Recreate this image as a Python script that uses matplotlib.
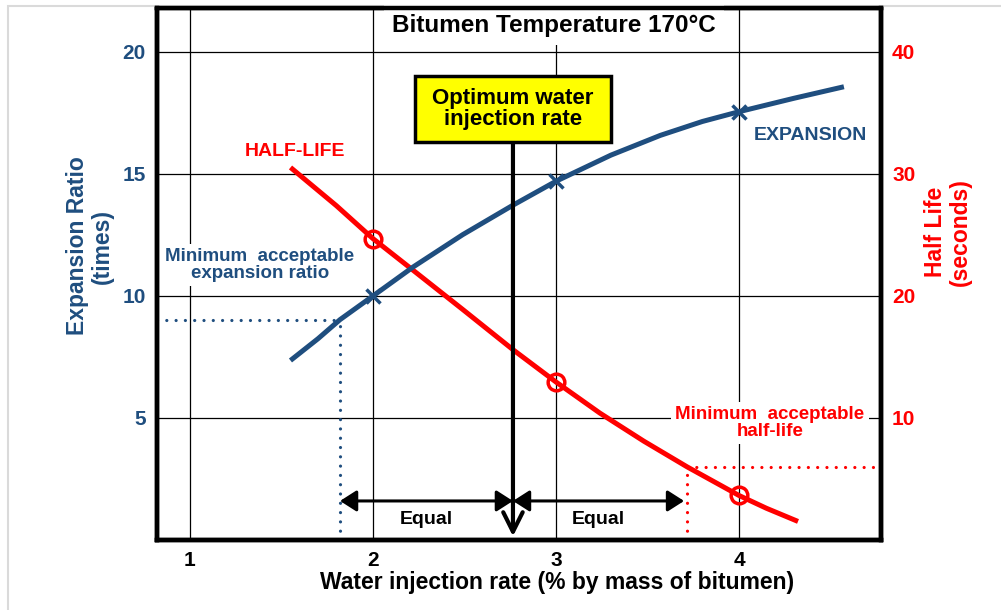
import matplotlib.pyplot as plt
from matplotlib.patches import Rectangle

plt.rcParams['font.family'] = ['Liberation Sans', 'DejaVu Sans']
plt.rcParams['font.weight'] = 'bold'

BLUE = '#1F4E7F'
RED = '#FF0000'

# expansion ratio (left axis)
exp_x = [1.56, 1.7, 1.82, 2.0, 2.22, 2.49, 2.765, 3.0, 3.3, 3.57, 3.8, 4.0, 4.3, 4.56]
exp_y = [7.42, 8.25, 9.03, 10.0, 11.19, 12.51, 13.72, 14.7, 15.77, 16.58, 17.15, 17.55, 18.1, 18.55]
exp_mark_x = [2, 3, 4]
exp_mark_y = [10.0, 14.7, 17.55]

# half-life in seconds (right axis)
hl_x = [1.56, 1.8, 2.0, 2.22, 2.49, 2.765, 3.0, 3.24, 3.48, 3.716, 4.0, 4.15, 4.31]
hl_y = [30.4, 27.4, 24.7, 22.1, 18.9, 15.6, 12.95, 10.4, 8.1, 6.0, 3.65, 2.6, 1.6]
hl_mark_x = [2, 3, 4]
hl_mark_y = [24.7, 12.95, 3.65]

min_expansion = 9.03
min_expansion_x = 1.82
min_halflife = 6.0
min_halflife_x = 3.716
optimum_x = 2.765

x_ticks = [1, 2, 3, 4]
left_ticks = [5, 10, 15, 20]
right_ticks = [10, 20, 30, 40]

xmin, xmax = 0.82, 4.776

fig = plt.figure(figsize=(10.01, 6.10), dpi=100)
fig.patch.set_facecolor('white')
ax = fig.add_axes([157 / 1001, 70 / 610, 724 / 1001, 532 / 610])
ax2 = ax.twinx()
ax.set_zorder(ax2.get_zorder() + 1)
ax.patch.set_visible(False)

ax.set_xlim(xmin, xmax)
ax.set_ylim(0, 21.8)
ax2.set_ylim(0, 43.6)
ax.set_xticks(x_ticks)
ax.set_yticks(left_ticks)
ax2.set_yticks(right_ticks)
ax.tick_params(axis='both', length=0, labelsize=15, pad=8)
ax.tick_params(axis='y', labelcolor=BLUE)
ax2.tick_params(axis='y', length=0, labelsize=15, pad=8, labelcolor=RED)

for a in (ax, ax2):
    for s in a.spines.values():
        s.set_linewidth(3.2)
        s.set_zorder(10)

# grid drawn on the lower axes so the curves sit over it
for xv in x_ticks:
    ax2.axvline(xv, color='black', lw=0.9, zorder=0)
for yv in right_ticks:
    ax2.axhline(yv, color='black', lw=0.9, zorder=0)

# minimum acceptable guides
dots = dict(linestyle=(0, (0.01, 2.9)), dash_capstyle='round', lw=2.3)
ax.plot([xmin, min_expansion_x], [min_expansion, min_expansion], color=BLUE, zorder=2, **dots)
ax.plot([min_expansion_x, min_expansion_x], [0, min_expansion], color=BLUE, zorder=2, **dots)
ax2.plot([min_halflife_x, xmax], [min_halflife, min_halflife], color=RED, zorder=1, **dots)
ax2.plot([min_halflife_x, min_halflife_x], [0, min_halflife], color=RED, zorder=1, **dots)

ax2.plot(hl_x, hl_y, color=RED, lw=3.6, zorder=2)
ax2.plot(hl_mark_x, hl_mark_y, 'o', ms=12, mfc='none', mec=RED, mew=2.5, zorder=3)
ax.plot(exp_x, exp_y, color=BLUE, lw=3.6, zorder=3)
ax.plot(exp_mark_x, exp_mark_y, 'x', ms=10, mew=2.5, color=BLUE, zorder=4)

# optimum line with the yellow label box
box_w, box_bottom, box_top = 1.066, 16.31, 19.02
ax.add_patch(Rectangle((optimum_x - box_w / 2, box_bottom), box_w, box_top - box_bottom,
                       fc='#FFFF00', ec='black', lw=2.5, zorder=6))
ax.text(optimum_x, (box_bottom + box_top) / 2, 'Optimum water\ninjection rate',
        ha='center', va='center', fontsize=16, linespacing=1.05, zorder=7)
ax.annotate('', xy=(optimum_x, 0.15), xytext=(optimum_x, box_bottom),
            arrowprops=dict(arrowstyle='->,head_length=0.7,head_width=0.35', lw=3,
                            color='black', shrinkA=0, shrinkB=0, mutation_scale=20),
            zorder=5)

arrow_y = 1.6
for x0, x1 in [(min_expansion_x, optimum_x), (optimum_x, 3.70)]:
    ax.annotate('', xy=(x0, arrow_y), xytext=(x1, arrow_y),
                arrowprops=dict(arrowstyle='<|-|>,head_length=0.5,head_width=0.32', lw=2.2,
                                color='black', shrinkA=0, shrinkB=0, mutation_scale=20),
                zorder=5)
    ax.text((x0 + x1) / 2, 0.82, 'Equal', ha='center', va='center', fontsize=14, zorder=5)

white = dict(fc='white', ec='none', pad=3)
ax.text(1.574, 15.94, 'HALF-LIFE', color=RED, ha='center', va='center', fontsize=14)
ax.text(4.388, 16.56, 'EXPANSION', color=BLUE, ha='center', va='center', fontsize=14)
ax.text(1.383, 11.27, 'Minimum  acceptable\nexpansion ratio', color=BLUE, ha='center',
        va='center', fontsize=13.5, linespacing=1.0, bbox=white, zorder=5)
ax.text(4.169, 4.8, 'Minimum  acceptable\nhalf-life', color=RED, ha='center',
        va='center', fontsize=13.5, linespacing=1.0, bbox=white, zorder=5)
ax.text(0.548, 0.968, 'Bitumen Temperature 170°C', transform=ax.transAxes, ha='center',
        va='center', fontsize=17.5, bbox=dict(fc='white', ec='none', pad=6), zorder=5)

fig.text(90 / 1001, 1 - 246 / 610, 'Expansion Ratio\n(times)', rotation=90, ha='center',
         va='center', fontsize=16.5, color=BLUE, linespacing=1.1, multialignment='center')
fig.text(948 / 1001, 1 - 232 / 610, 'Half Life\n(seconds)', rotation=90, ha='center',
         va='center', fontsize=16.5, color=RED, linespacing=1.1, multialignment='center')
fig.text(557 / 1001, 1 - 583 / 610, 'Water injection rate (% by mass of bitumen)',
         ha='center', va='center', fontsize=16.5)

# faint slide frame
fig.add_artist(Rectangle((8 / 1001, -0.1), 1.2, 1.1 - 6 / 610, transform=fig.transFigure,
                         fill=False, ec='#DADADA', lw=1.5))

fig.savefig('out.png', dpi=100, facecolor='white')
